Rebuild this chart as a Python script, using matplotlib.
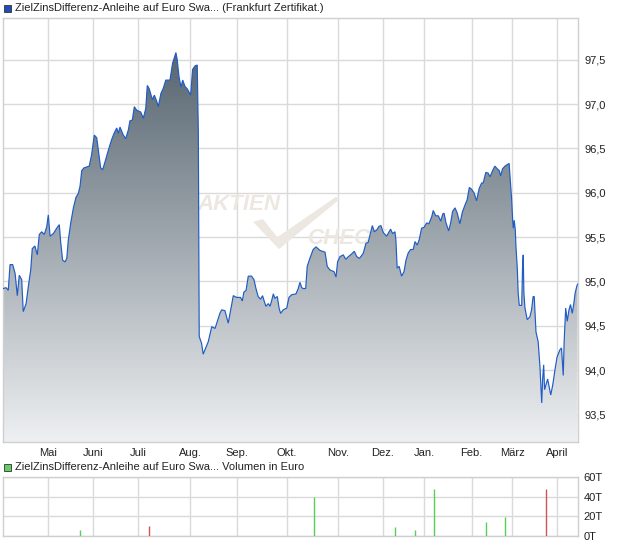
import matplotlib
matplotlib.use("Agg")
import matplotlib.pyplot as plt
import numpy as np
from matplotlib.patches import Polygon, Rectangle
from matplotlib.colors import LinearSegmentedColormap

plt.rcParams['font.family'] = ['Liberation Sans', 'DejaVu Sans']

title_main = "ZielZinsDifferenz-Anleihe auf Euro Swa... (Frankfurt Zertifikat.)"
title_vol = "ZielZinsDifferenz-Anleihe auf Euro Swa... Volumen in Euro"

month_labels = ["Mai", "Juni", "Juli", "Aug.", "Sep.", "Okt.", "Nov.", "Dez.",
                "Jan.", "Feb.", "März", "April"]
month_pos = [20.6, 41.0, 61.5, 85.2, 106.4, 129.1, 152.3, 172.7, 191.4, 213.0, 231.6, 252.0]

price_ticks = [93.5, 94.0, 94.5, 95.0, 95.5, 96.0, 96.5, 97.0, 97.5]
vol_ticks = [0, 20, 40, 60]
vol_tick_labels = ["0T", "20T", "40T", "60T"]

# trading-session position (x) and price
session = [0.1, 1.4, 2.4, 3.2, 4.4, 5.5, 6.5, 7.4, 8.5, 9.2, 10.5, 11.5, 12.6, 13.3, 14.5,
           15.6, 16.5, 17.6, 18.8, 19.9, 20.6, 21.4, 22.9, 24.4, 25.6, 26.2, 27.1, 28.2,
           29.0, 29.7, 30.8, 32.0, 33.2, 34.2, 35.0, 35.8, 36.8, 39.2, 40.3, 41.5, 42.6,
           43.6, 44.4, 45.3, 46.4, 47.9, 49.4, 50.5, 51.7, 52.4, 53.2, 54.7, 55.8, 57.0,
           57.7, 58.8, 59.7, 60.8, 62.6, 63.8, 64.9, 65.6, 66.5, 67.9, 68.8, 69.9, 70.6,
           71.8, 72.9, 74.0, 75.9, 77.1, 78.6, 79.2, 80.0, 80.9, 81.7, 82.7, 83.8, 85.3,
           86.2, 87.3, 88.3, 88.8, 89.2, 90.3, 91.0, 93.3, 94.9, 96.4, 98.6, 99.4, 100.9,
           102.4, 103.5, 104.7, 106.2, 108.0, 108.8, 109.5, 110.5, 111.5, 113.0, 114.1,
           115.0, 116.0, 117.1, 118.0, 118.6, 119.5, 120.6, 121.4, 122.1, 122.9, 123.6,
           124.7, 125.5, 126.2, 127.4, 129.0, 130.0, 131.2, 133.2, 134.2, 135.0, 135.8,
           136.5, 137.6, 138.3, 139.5, 141.0, 142.3, 144.1, 146.4, 147.4, 148.6, 150.5,
           151.4, 152.1, 153.2, 154.7, 155.8, 157.0, 158.5, 159.7, 160.8, 162.0, 163.0,
           163.8, 165.0, 166.0, 166.8, 167.9, 168.8, 169.9, 170.9, 171.8, 172.9, 174.4,
           176.2, 177.1, 178.2, 178.6, 179.2, 180.1, 181.2, 182.3, 183.2, 184.2, 185.3,
           186.5, 187.3, 188.3, 189.2, 190.3, 191.4, 192.6, 193.6, 194.9, 195.6, 196.7,
           197.9, 199.0, 199.9, 200.5, 201.4, 202.6, 203.5, 204.4, 205.5, 206.5, 207.7,
           208.8, 210.0, 211.0, 212.0, 213.0, 214.1, 215.3, 216.5, 217.6, 218.3, 219.5,
           220.6, 221.4, 222.6, 223.6, 224.7, 225.6, 226.2, 227.1, 228.2, 229.4, 230.1,
           230.5, 231.2, 231.7, 232.0, 232.4, 232.9, 233.2, 233.8, 234.2, 234.7, 235.8,
           236.2, 236.5, 236.8, 237.3, 238.3, 239.5, 240.3, 241.0, 241.5, 242.3, 243.3,
           244.1, 244.9, 245.3, 245.8, 246.2, 246.8, 247.6, 248.3, 249.0, 249.9, 250.9,
           251.9, 253.2, 253.9, 254.7, 255.1, 255.8, 256.5, 257.3, 258.0, 258.8, 259.5,
           260.1, 260.8, 261.2]
price = [94.92, 94.93, 94.90, 95.19, 95.19, 95.09, 94.84, 95.07, 95.02, 94.66, 94.75, 94.94,
         95.13, 95.37, 95.40, 95.30, 95.53, 95.56, 95.53, 95.62, 95.75, 95.51, 95.54, 95.60,
         95.64, 95.45, 95.24, 95.22, 95.26, 95.47, 95.66, 95.83, 95.95, 95.99, 96.07, 96.25,
         96.28, 96.30, 96.43, 96.65, 96.62, 96.43, 96.28, 96.26, 96.35, 96.48, 96.60, 96.67,
         96.73, 96.67, 96.74, 96.65, 96.61, 96.71, 96.81, 96.82, 96.97, 96.93, 96.91, 96.84,
         96.95, 97.21, 97.17, 97.05, 97.10, 97.03, 96.97, 97.12, 97.18, 97.27, 97.27, 97.46,
         97.58, 97.50, 97.31, 97.19, 97.27, 97.20, 97.17, 97.10, 97.39, 97.43, 97.44, 96.67,
         94.38, 94.30, 94.18, 94.32, 94.49, 94.47, 94.64, 94.68, 94.67, 94.53, 94.68, 94.84,
         94.82, 94.82, 94.78, 94.88, 94.90, 95.06, 95.06, 95.02, 94.92, 94.83, 94.80, 94.84,
         94.79, 94.72, 94.75, 94.72, 94.78, 94.86, 94.81, 94.83, 94.70, 94.64, 94.68, 94.70,
         94.82, 94.85, 94.86, 94.92, 94.99, 94.93, 94.92, 94.92, 95.17, 95.26, 95.36, 95.39,
         95.35, 95.33, 95.17, 95.13, 95.11, 95.05, 95.22, 95.28, 95.30, 95.25, 95.28, 95.31,
         95.34, 95.28, 95.26, 95.29, 95.32, 95.43, 95.44, 95.52, 95.63, 95.56, 95.58, 95.62,
         95.63, 95.55, 95.51, 95.59, 95.54, 95.56, 95.47, 95.15, 95.17, 95.06, 95.11, 95.24,
         95.32, 95.36, 95.36, 95.45, 95.41, 95.47, 95.60, 95.61, 95.66, 95.65, 95.73, 95.80,
         95.74, 95.74, 95.68, 95.76, 95.77, 95.66, 95.57, 95.66, 95.79, 95.83, 95.77, 95.65,
         95.78, 95.86, 95.92, 96.06, 96.04, 96.00, 95.91, 96.05, 96.11, 96.11, 96.23, 96.22,
         96.18, 96.25, 96.30, 96.27, 96.25, 96.19, 96.27, 96.30, 96.32, 96.33, 96.18, 95.94,
         95.69, 95.60, 95.69, 95.58, 95.39, 95.15, 94.87, 94.73, 94.73, 95.17, 95.30, 94.87,
         94.70, 94.57, 94.60, 94.68, 94.83, 94.83, 94.43, 94.32, 94.04, 93.63, 93.89, 94.06,
         93.78, 93.83, 93.90, 93.81, 93.72, 93.83, 94.00, 94.15, 94.23, 94.25, 93.94, 94.32,
         94.70, 94.55, 94.68, 94.74, 94.64, 94.75, 94.87, 94.94, 94.97]

vol_session = [35.1, 66.5, 141.5, 178.3, 187.3, 195.8, 219.4, 228.3, 246.7]
vol_thousands = [6, 10, 40, 9.5, 6, 48, 14, 19.5, 48]
vol_up = [True, False, True, True, True, True, True, True, False]

x_min, x_max = 0.0, 261.4
y_min, y_max = 93.19, 97.97

W, H = 620, 546
fig = plt.figure(figsize=(W / 100, H / 100), dpi=100)
fig.patch.set_facecolor("white")

grid_c = "#dadada"
txt_c = "#222222"
fs = 8.0

# ---------- main price chart ----------
ax = fig.add_axes([3 / W, (H - 442) / H, 575 / W, 424 / H])
ax.set_axisbelow(True)

# watermark
wm_c = "#ece7e0"
ax.text(0.41, 0.56, "AKTIEN", transform=ax.transAxes, fontsize=16, fontweight="bold",
        style="italic", color=wm_c, ha="center", va="center", zorder=1)
ax.text(0.53, 0.48, "CHECK", transform=ax.transAxes, fontsize=16, fontweight="bold",
        style="italic", color=wm_c, ha="left", va="center", zorder=1)
check = Polygon([(0.435, 0.519), (0.452, 0.526), (0.477, 0.483), (0.579, 0.578),
                 (0.586, 0.573), (0.480, 0.455)], closed=True, transform=ax.transAxes,
                facecolor=wm_c, edgecolor="none", zorder=1)
ax.add_patch(check)

xs = np.array(session)
ys = np.array(price)
verts = [(xs[0], y_min)] + list(zip(xs, ys)) + [(xs[-1], y_min)]
poly = Polygon(verts, closed=True, facecolor="none", edgecolor="none")
ax.add_patch(poly)
grad = np.linspace(0, 1, 256).reshape(-1, 1)
cmap = LinearSegmentedColormap.from_list("g", ["#eef0f2", "#4a5965"])
im = ax.imshow(grad, extent=[x_min, x_max, y_min, y_max], origin="lower",
               aspect="auto", cmap=cmap, zorder=2, interpolation="bilinear")
im.set_clip_path(poly)
ax.plot(xs, ys, color="#1f5cc6", lw=0.85, zorder=3, solid_joinstyle="miter")

ax.set_xlim(x_min, x_max)
ax.set_ylim(y_min, y_max)
ax.set_xticks(month_pos)
ax.set_xticklabels(month_labels)
ax.set_yticks(price_ticks)
ax.set_yticklabels([f"{v:.1f}".replace(".", ",") for v in price_ticks])
ax.yaxis.tick_right()
ax.tick_params(axis="both", length=0, labelsize=fs, colors=txt_c)
ax.tick_params(axis="x", pad=4)
ax.tick_params(axis="y", pad=5)
ax.grid(True, color=grid_c, lw=1)
for s in ax.spines.values():
    s.set_color("#cfcfcf")
    s.set_linewidth(1)

# legend main
fig.patches.append(Rectangle((4 / W, (H - 12) / H), 7 / W, 7 / H, transform=fig.transFigure,
                             facecolor="#1f4fb5", edgecolor="#333333", lw=0.6))
fig.text(15 / W, 1 - 8 / H, title_main, fontsize=fs, color=txt_c, va="center", ha="left")

# ---------- volume chart ----------
axv = fig.add_axes([3 / W, (H - 536) / H, 575 / W, 59 / H])
axv.set_axisbelow(True)
for xv, v, up in zip(vol_session, vol_thousands, vol_up):
    axv.vlines(xv, 0, v, color="#55d055" if up else "#d05555", lw=1.0, zorder=3)
axv.set_xlim(x_min, x_max)
axv.set_ylim(0, 60)
axv.set_xticks(month_pos)
axv.set_xticklabels([])
axv.set_yticks(vol_ticks)
axv.set_yticklabels(vol_tick_labels)
axv.yaxis.tick_right()
axv.tick_params(axis="both", length=0, labelsize=fs, colors=txt_c)
axv.tick_params(axis="y", pad=4)
axv.grid(True, color=grid_c, lw=1)
for s in axv.spines.values():
    s.set_color("#cfcfcf")
    s.set_linewidth(1)

fig.patches.append(Rectangle((4 / W, (H - 471) / H), 7 / W, 7 / H, transform=fig.transFigure,
                             facecolor="#66cc66", edgecolor="#333333", lw=0.6))
fig.text(15 / W, 1 - 467 / H, title_vol, fontsize=fs, color=txt_c, va="center", ha="left")

fig.savefig("out.png", dpi=100, facecolor="white")
